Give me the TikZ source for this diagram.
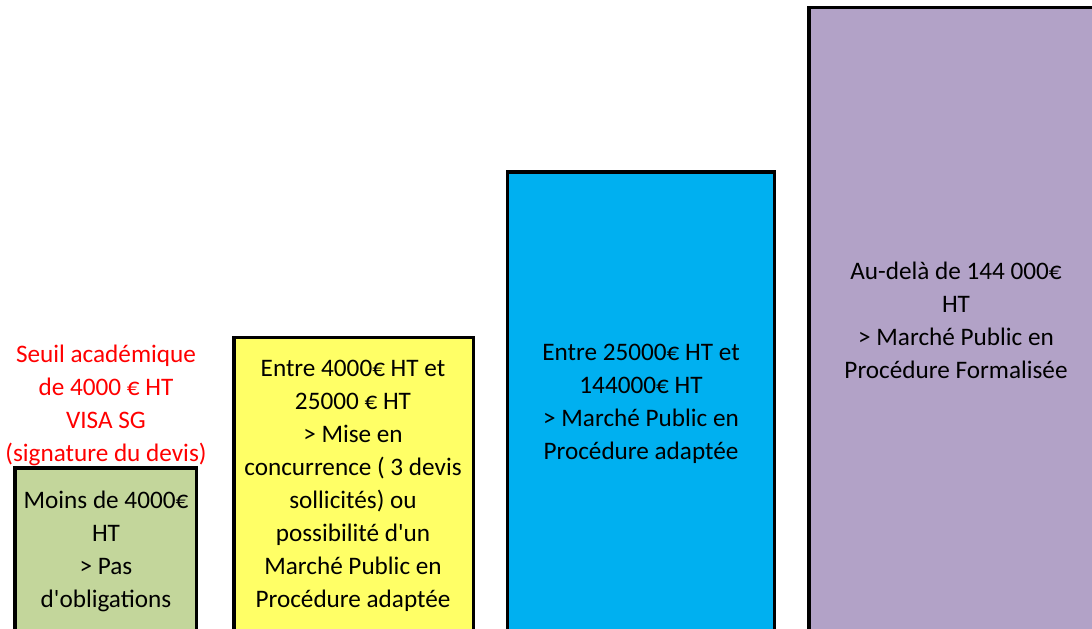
\documentclass[tikz,border=0pt]{standalone}
\usepackage{fontspec}
\setmainfont{Carlito}
\definecolor{boxgreen}{HTML}{C3D69B}
\definecolor{boxyellow}{HTML}{FFFF66}
\definecolor{boxblue}{HTML}{00B0F0}
\definecolor{boxpurple}{HTML}{B2A2C7}
\definecolor{seuilred}{HTML}{FF0000}
\newcommand{\sq}{\textquotesingle}
\begin{document}
\begin{tikzpicture}[x=1bp,y=-1bp,
  bar/.style={draw=black,line width=3.5bp},
  label/.style={align=center,inner sep=0pt,font=\fontsize{25.2bp}{33bp}\selectfont},
]
\useasboundingbox (0,0) rectangle (1092,629);
\fill[white] (0,0) rectangle (1092,629);
\begin{scope}
\clip (0,0) rectangle (1092,629);
\draw[bar,fill=boxgreen] (15,640) rectangle (196.5,468);
\draw[bar,fill=boxyellow] (234,640) rectangle (473.5,337.5);
\draw[bar,fill=boxblue] (507.5,640) rectangle (774.5,172);
\draw[bar,fill=boxpurple] (809,640) rectangle (1103,7.5);
\end{scope}
\node[label] (tgreen) at (106,551.5) {Moins de 4000€\\HT\\> Pas\\d\sq obligations};
\node[label] (tyellow) at (353,485.5) {Entre 4000€ HT et\\25000 € HT\\> Mise en\\concurrence ( 3 devis\\sollicités) ou\\possibilité d\sq un\\Marché Public en\\Procédure adaptée};
\node[label] (tblue) at (641,403.5) {Entre 25000€ HT et\\144000€ HT\\> Marché Public en\\Procédure adaptée};
\node[label] (tpurple) at (956,320) {Au-delà de 144 000€\\HT\\> Marché Public en\\Procédure Formalisée};
\node[label,text=seuilred] (tred) at (106,405.5) {Seuil académique\\de 4000 € HT\\VISA SG\\(signature du devis)};
\end{tikzpicture}
\end{document}
